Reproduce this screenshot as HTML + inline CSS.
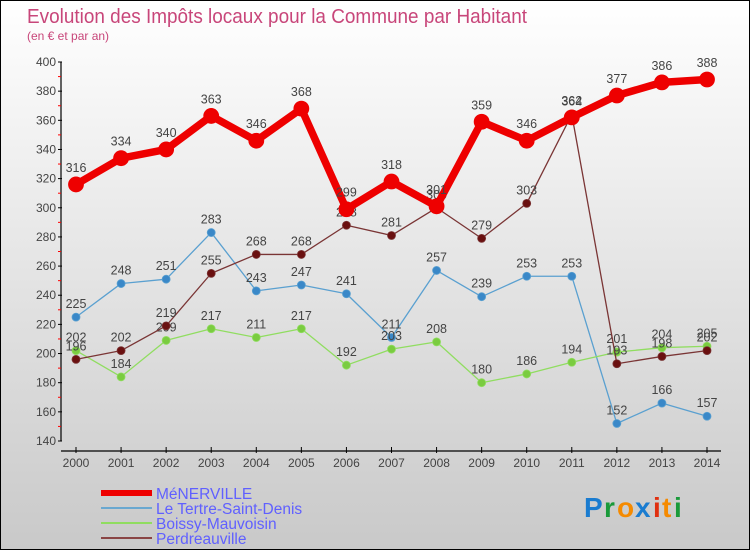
<!DOCTYPE html>
<html><head><meta charset="utf-8">
<style>
html,body{margin:0;padding:0}
body{width:750px;height:550px;overflow:hidden;font-family:"Liberation Sans","DejaVu Sans",sans-serif}
#wrap{position:relative;width:748px;height:548px;border:1px solid #000;background:linear-gradient(#ffffff,#c9c9c9)}
svg{position:absolute;left:0;top:0}
</style></head>
<body>
<div id="wrap">
<svg id="chart" width="750" height="550">
<text x="26" y="22" font-size="20" fill="#c8467a" textLength="500" lengthAdjust="spacingAndGlyphs">Evolution des Impôts locaux pour la Commune par Habitant</text>
<text x="26" y="39" font-size="12" fill="#c8467a">(en € et par an)</text>
<g id="logo" font-size="28" font-weight="bold" font-family="'Liberation Sans',sans-serif">
<text x="583" y="516" fill="#1a7cd0">P</text><text x="603" y="516" fill="#1a9a3a">r</text><text x="616" y="516" fill="#f58a00">o</text><text x="634" y="516" fill="#1a7cd0">x</text><text x="652" y="516" fill="#e03010">i</text><text x="661" y="516" fill="#f58a00">t</text><text x="673" y="516" fill="#1a9a3a">i</text>
</g>
</svg>
</div>
<script>
const years=["2000","2001","2002","2003","2004","2005","2006","2007","2008","2009","2010","2011","2012","2013","2014"];
const yTicks=[140,160,180,200,220,240,260,280,300,320,340,360,380,400];
const menerville=[316,334,340,363,346,368,299,318,301,359,346,362,377,386,388];
const tertre=[225,248,251,283,243,247,241,211,257,239,253,253,152,166,157];
const boissy=[202,184,209,217,211,217,192,203,208,180,186,194,201,204,205];
const perdreau=[196,202,219,255,268,268,288,281,300,279,303,364,193,198,202];
const seriesNames=["MéNERVILLE","Le Tertre-Saint-Denis","Boissy-Mauvoisin","Perdreauville"];

const svg=document.getElementById('chart');
const NS="http://www.w3.org/2000/svg";
function xs(i){return 75+i*(706-75)/(years.length-1);}
function ys(v){return 440-(v-140)*(440-61)/(400-140);}
function el(tag,attrs,parent){const e=document.createElementNS(NS,tag);for(const k in attrs)e.setAttribute(k,attrs[k]);(parent||svg).appendChild(e);return e;}

const ax=el('g',{});


const yl=el('line',{x1:60,y1:61,x2:60,y2:440,stroke:'#000','stroke-width':1.2},ax);


const xl=el('line',{x1:60,y1:450,x2:720,y2:450,stroke:'#000','stroke-width':1.2},ax);


yTicks.forEach((t,i)=>{
  const y=ys(t);
  el('line',{x1:57,y1:y,x2:61,y2:y,stroke:'#000'},ax);
  const tx=el('text',{x:55,y:y+4,'font-size':12,fill:'#444','text-anchor':'end'},ax);
  tx.textContent=t;
  
  
  if(i<yTicks.length-1){const m=ys(t+10);el('line',{x1:57,y1:m,x2:60,y2:m,stroke:'#f00'},ax);}
});
years.forEach((yr,i)=>{
  const x=xs(i);
  el('line',{x1:x,y1:446,x2:x,y2:452,stroke:'#000'},ax);
  const tx=el('text',{x:x,y:466,'font-size':12,fill:'#444','text-anchor':'middle'},ax);
  tx.textContent=yr;
  
  
});

function drawSeries(data,color,width,r,dot,name){
  const g=el('g',{});
  
  
  el('polyline',{points:data.map((v,i)=>xs(i)+','+ys(v)).join(' '),fill:'none',stroke:color,'stroke-width':width,'stroke-linejoin':'round'},g);
  data.forEach((v,i)=>{
    const c=el('circle',{cx:xs(i),cy:ys(v),r:r,fill:dot,stroke:color,'stroke-width':0.8},g);
    
    
    const t=el('text',{x:xs(i),y:ys(v)-r-5,'font-size':12.5,fill:'#444','text-anchor':'middle'},g);
    t.textContent=v;
    
    
  });
}
drawSeries(tertre,'#5aa0d0',1.3,4,'#3a88c8','series-tertre');
drawSeries(boissy,'#90dd60',1.3,4,'#7acc40','series-boissy');
drawSeries(perdreau,'#7a3535',1.3,4,'#6a1010','series-perdreauville');
drawSeries(menerville,'#ee0000',7.5,7.5,'#ee0000','series-menerville');

const lg=el('g',{});


const cols=['#ee0000','#6aa8d0','#90dd60','#8a4545'];
const wid=[6,2,2,2];
seriesNames.forEach((n,i)=>{
  const y=492+i*15;
  el('line',{x1:100,y1:y,x2:151,y2:y,stroke:cols[i],'stroke-width':wid[i]},lg);
  const t=el('text',{x:155,y:y+6,'font-size':15.5,fill:'#6060ff'},lg);
  t.textContent=n;
  
  
});
</script>
</body></html>
